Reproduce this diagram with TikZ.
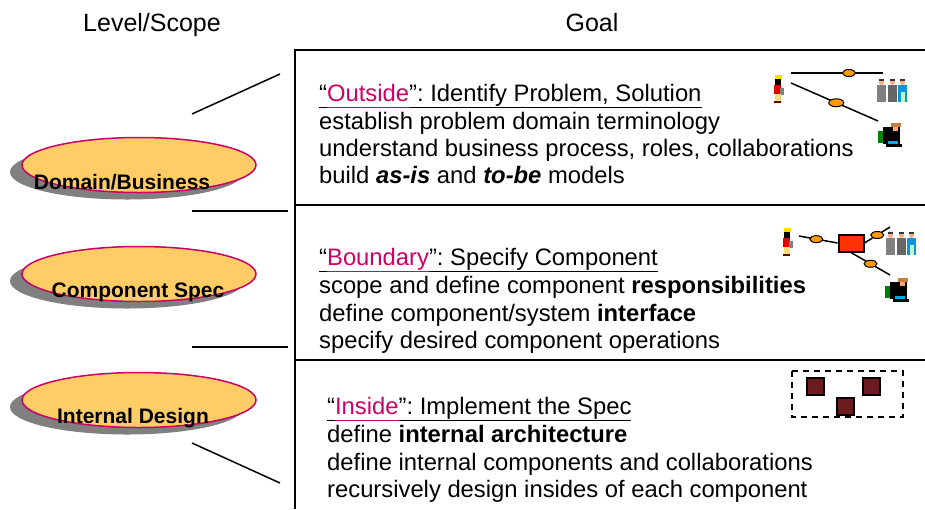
\documentclass[tikz,border=0pt]{standalone}
\usepackage{fontspec}
\setmainfont{Liberation Sans}
\usetikzlibrary{shapes.geometric,shadows}

\definecolor{linkred}{RGB}{204,0,102}
\definecolor{lvlfill}{RGB}{255,204,102}
\definecolor{shadowgray}{RGB}{128,128,128}
\definecolor{ovalorange}{RGB}{255,153,0}
\definecolor{compred}{RGB}{255,51,0}
\definecolor{partred}{RGB}{107,26,31}

% underlined heading, keyword in link colour
\newcommand{\hdr}[2]{\underline{\vphantom{y}“}\textcolor{linkred}{\underline{\vphantom{y}#1}}\underline{\vphantom{y}”#2}}

% small clip-art figures, #1 = top left corner
\newcommand{\worker}[1]{%
  \begin{scope}[shift={#1}]
    \fill[yellow!80!orange] (2,0) rectangle (9,4);
    \fill[black] (2,4) rectangle (8,10);
    \fill[red!90!black] (1,10) rectangle (8,19);
    \fill[gray] (7,13) rectangle (11,20);
    \fill[brown!40!yellow!60!white] (2,19) rectangle (8,26);
    \fill[black!60!red] (1,26) rectangle (8,28);
  \end{scope}}
\newcommand{\staff}[1]{%
  \begin{scope}[shift={#1}]
    \foreach \dx/\c in {0/gray,11/gray!80!black,21/cyan!80!blue}{
      \fill[\c] (\dx,6) rectangle ++(9,17);
      \fill[pink!70!orange] (\dx+4.5,3.5) circle (2.5);
      \fill[black!80] (\dx+2,0) rectangle ++(5,2);
    }
    \fill[green!25] (24,13) rectangle (28,23);
  \end{scope}}
\newcommand{\desk}[1]{%
  \begin{scope}[shift={#1}]
    \fill[green!50!black] (0,8) rectangle (8,20);
    \fill[black] (5,4) rectangle (22,21);
    \fill[brown] (13,0) rectangle (23,4);
    \fill[pink!60!orange] (15,4) rectangle (20,8);
    \fill[cyan] (10,18) rectangle (20,23);
    \fill[black] (8,21) rectangle (24,24);
  \end{scope}}

\begin{document}
\begin{tikzpicture}[x=1pt,y=-1pt,
  txt/.style={anchor=base west,inner sep=0,font=\fontsize{23.8}{27}\selectfont\frenchspacing},
  title/.style={anchor=base,inner sep=0,font=\fontsize{25}{29}\selectfont},
  lvl/.style={ellipse,draw=linkred,fill=lvlfill,line width=1.5,
    minimum width=234,minimum height=55,inner sep=0,
    drop shadow={shadow xshift=-12pt,shadow yshift=-7pt,opacity=1,fill=shadowgray}},
  lvltxt/.style={anchor=base,inner sep=0,font=\fontsize{21}{25}\selectfont\bfseries},
  oval/.style={ellipse,draw,line width=1,fill=ovalorange,minimum width=13,minimum height=7,inner sep=0},
  part/.style={draw,line width=1.5,fill=partred,minimum size=17,inner sep=0}]
\useasboundingbox (0,0) rectangle (925,509);

% Headings
\node[title] (scope) at (152,31) {Level/Scope};
\node[title] (goal) at (592,31) {Goal};

% Frame
\draw[line width=2] (295,509) -- (295,50) -- (925,50);
\draw[line width=2] (295,205) -- (925,205);
\draw[line width=2] (295,360) -- (925,360);

% Levels
\node[lvl] (dom) at (139,165) {};
\node[lvl] (spec) at (139,274) {};
\node[lvl] (inner) at (139,400) {};
\node[lvltxt] at (122,189) {Domain/Business};
\node[lvltxt] at (138,297) {Component Spec};
\node[lvltxt] at (133,423) {Internal Design};

% Leaders
\draw[line width=1.5] (192,114) -- (280,74);
\draw[line width=1.5] (192,211) -- (288,211);
\draw[line width=1.5] (192,347) -- (288,347);
\draw[line width=1.5] (192,443) -- (280,483);

% Outside
\node[txt] (o1) at (319,101) {\hdr{Outside}{: Identify Problem, Solution}};
\node[txt] (o2) at (319,129) {establish problem domain terminology};
\node[txt] (o3) at (319,156) {understand business process, roles, collaborations};
\node[txt] (o4) at (319,183) {build \textbf{\textit{as-is}} and \textbf{\textit{to-be}} models};

\worker{(773,75)}
\staff{(877,79)}
\desk{(878,123)}
\coordinate (a1) at (791,73);
\coordinate (a2) at (883,73);
\coordinate (a3) at (791,83);
\coordinate (a4) at (878,121);
\draw[line width=1.5] (a1) -- (a2) node[oval,pos=0.63] {};
\draw[line width=1.5] (a3) -- (a4) node[oval,pos=0.52,minimum width=15,minimum height=8] {};

% Boundary
\node[txt] (b1) at (319,265) {\hdr{Boundary}{: Specify Component}};
\node[txt] (b2) at (319,293) {scope and define component \textbf{responsibilities}};
\node[txt] (b3) at (319,321) {define component/system \textbf{interface}};
\node[txt] (b4) at (319,348) {specify desired component operations};

\worker{(782,228)}
\staff{(886,232)}
\desk{(885,278)}
\node[draw,line width=2,fill=compred,minimum width=25,minimum height=17,inner sep=0] (comp) at (851,243) {};
\coordinate (c1) at (799,236);
\coordinate (c2) at (890,227);
\coordinate (c3) at (890,275);
\draw[line width=1.5] (c1) -- (comp.west) node[oval,pos=0.45] {};
\draw[line width=1.5] (comp.east) -- (c2) node[oval,pos=0.5] {};
\draw[line width=1.5] (comp.south) -- (c3) node[oval,pos=0.5] {};

% Inside
\node[txt] (i1) at (327,414) {\hdr{Inside}{: Implement the Spec}};
\node[txt] (i2) at (327,442) {define \textbf{internal architecture}};
\node[txt] (i3) at (327,470) {define internal components and collaborations};
\node[txt] (i4) at (327,497) {recursively design insides of each component};

\draw[dashed,line width=1.5,dash pattern=on 6pt off 5pt] (792,371) rectangle (903,417);
\node[part] (p1) at (815.5,386.5) {};
\node[part] (p2) at (871.5,386.5) {};
\node[part] (p3) at (845.5,406.5) {};
\end{tikzpicture}
\end{document}
